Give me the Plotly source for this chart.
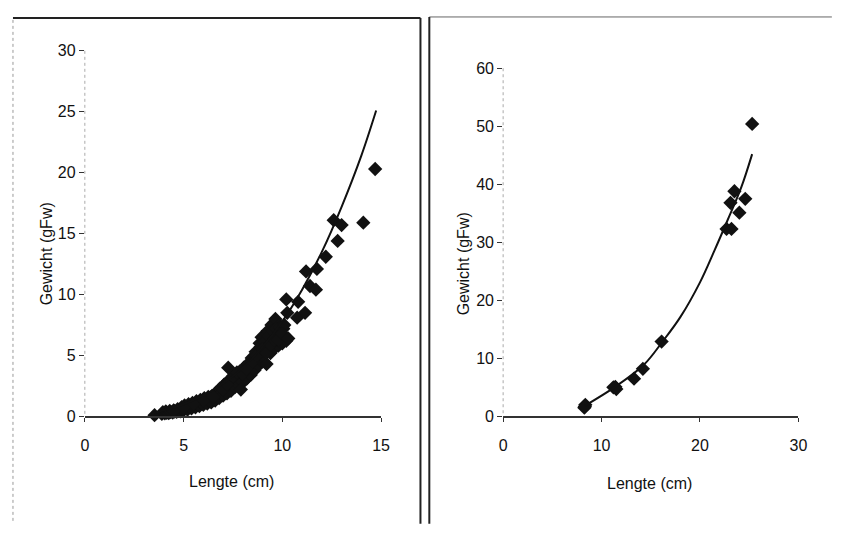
import plotly.graph_objects as go

# ---------------- data ----------------
left_len = [3.53,
    3.9, 3.95, 4.05, 4.1, 4.15, 4.25, 4.3, 4.35, 4.45, 4.5, 4.55, 4.65, 4.7, 4.75,
    4.85, 4.9, 4.95, 5.0, 5.05, 5.1, 5.2, 5.25, 5.3, 5.4, 5.45, 5.5, 5.6, 5.65, 5.7,
    5.8, 5.85, 5.9, 6.0, 6.05, 6.1, 6.2, 6.25, 6.3, 6.4, 6.45, 6.5, 6.6, 6.65, 6.7,
    6.8, 6.85, 6.9, 7.0, 7.05, 7.1, 7.2, 7.25, 7.3, 7.4, 7.45, 7.5, 7.6, 7.65, 7.7,
    7.8, 7.85, 7.9, 8.0, 8.05, 8.1, 8.2, 8.25, 8.3, 8.4, 8.45, 8.5, 8.6, 8.65, 8.7,
    8.8, 8.85, 8.9, 8.95, 9.0, 9.05, 9.1, 9.2, 9.25, 9.3, 9.4, 9.45, 9.5, 9.6, 9.65, 9.7,
    9.8, 9.85, 9.9, 10.0, 10.05, 10.1, 10.2, 10.25,
    7.5, 7.7, 8.0, 8.2, 8.5, 8.7, 8.9, 9.1, 9.3, 9.5, 9.7, 9.9, 10.1, 9.0, 9.2, 9.4,
    9.6, 9.8, 10.0, 10.3, 6.0, 6.5, 7.0, 7.2, 5.5, 5.0, 4.5,
    7.26, 7.9, 10.2, 10.75, 10.8, 11.15, 11.2, 11.4, 11.7, 11.75, 12.2, 12.6, 12.8,
    13.0, 14.1, 14.7]
left_wt = [0.10,
    0.20, 0.35, 0.25, 0.40, 0.30, 0.28, 0.45, 0.35, 0.32, 0.50, 0.40, 0.38, 0.60, 0.48,
    0.42, 0.75, 0.55, 0.50, 0.90, 0.70, 0.55, 1.00, 0.78, 0.65, 1.10, 0.88, 0.75, 1.25, 1.00,
    0.85, 1.35, 1.10, 0.95, 1.50, 1.20, 1.05, 1.60, 1.30, 1.15, 1.70, 1.45, 1.30, 1.95, 1.60,
    1.50, 2.30, 1.90, 1.70, 2.60, 2.10, 1.90, 2.90, 2.40, 2.10, 3.10, 2.60, 2.40, 3.40, 2.90,
    2.60, 3.70, 3.10, 2.80, 4.00, 3.40, 3.10, 4.30, 3.70, 3.40, 4.80, 4.10, 3.80, 5.30, 4.50,
    4.20, 6.00, 5.00, 6.50, 4.50, 6.50, 5.40, 4.30, 7.00, 5.90, 5.20, 7.50, 6.20, 5.60, 8.00, 6.60,
    5.80, 7.50, 6.80, 6.00, 7.20, 6.50, 6.20, 8.50,
    3.3, 3.6, 3.5, 3.9, 4.5, 5.0, 5.7, 6.1, 6.6, 7.0, 7.2, 7.3, 7.5, 5.5, 5.2, 5.9,
    6.3, 6.3, 6.8, 6.4, 1.3, 1.6, 2.2, 2.6, 1.0, 0.7, 0.45,
    4.0, 2.2, 9.6, 8.1, 9.4, 8.5, 11.9, 10.7, 10.4, 12.1, 13.1, 16.1, 14.4,
    15.7, 15.9, 20.3]

left_fit_len = [3.5, 4, 5, 6, 7, 8, 9, 10, 11, 12, 13, 14, 14.75]
left_fit_wt = [0.3, 0.5, 1.0, 1.7, 2.7, 4.0, 5.7, 7.8, 10.4, 13.5, 17.2, 21.4, 25.1]

right_len = [8.25, 8.35, 8.3, 11.2, 11.5, 11.4, 13.3, 14.2, 16.1, 22.7, 23.2, 23.1, 23.5, 24.6, 24.0, 25.3]
right_wt = [1.5, 2.0, 1.7, 5.0, 4.7, 5.1, 6.5, 8.2, 12.9, 32.3, 32.3, 36.8, 38.8, 37.5, 35.1, 50.4]

right_fit_len = [8.33, 11.3, 14.3, 16.2, 18, 20, 21.5, 22.8, 24.2, 25.3]
right_fit_wt = [1.87, 5.0, 8.9, 12.9, 17.1, 23.1, 28.7, 33.8, 39.5, 45.2]

left_xticks = [0, 5, 10, 15]
left_yticks = [0, 5, 10, 15, 20, 25, 30]
right_xticks = [0, 10, 20, 30]
right_yticks = [0, 10, 20, 30, 40, 50, 60]

x_title = "Lengte (cm)"
y_title = "Gewicht (gFw)"

# ---------------- figure ----------------
# The page body keeps the browser's default 8px margin, so the figure is
# 16px smaller than the window and all window positions are shifted by 8px.
OFF = 8
W, H = 841 - 2 * OFF, 533 - 2 * OFF
FONT = "'Liberation Sans', Arial, sans-serif"

def px(x):
    return (x - OFF) / W

def py(y):
    return 1 - (y - OFF) / H

fig = go.Figure()
mk = dict(symbol="diamond", size=11, color="#111111", line=dict(width=0))

fig.add_trace(go.Scatter(x=left_len, y=left_wt, mode="markers", marker=mk,
                         cliponaxis=False, xaxis="x", yaxis="y", showlegend=False))
fig.add_trace(go.Scatter(x=left_fit_len, y=left_fit_wt, mode="lines", line=dict(color="#111111", width=2, shape="spline"),
                         cliponaxis=False, xaxis="x", yaxis="y", showlegend=False))
fig.add_trace(go.Scatter(x=right_len, y=right_wt, mode="markers", marker=mk,
                         cliponaxis=False, xaxis="x2", yaxis="y2", showlegend=False))
fig.add_trace(go.Scatter(x=right_fit_len, y=right_fit_wt, mode="lines", line=dict(color="#111111", width=2, shape="spline"),
                         cliponaxis=False, xaxis="x2", yaxis="y2", showlegend=False))

tickfont = dict(family=FONT, size=16, color="#111111")

def xax(domain, rng, ticks, anchor):
    return dict(domain=domain, range=rng, tickvals=ticks, showgrid=False, zeroline=False,
                showline=True, linecolor="#333333", linewidth=1.5, ticks="outside",
                ticklen=4, tickcolor="#333333", tickfont=tickfont, anchor=anchor,
                ticklabelstandoff=10, fixedrange=True)

def yax(domain, rng, ticks, anchor):
    return dict(domain=domain, range=rng, tickvals=ticks, showgrid=False, zeroline=False,
                showline=False, ticks="outside", ticklen=5, tickcolor="#333333",
                tickfont=tickfont, anchor=anchor, fixedrange=True)

fig.update_layout(
    width=W, height=H, autosize=False,
    margin=dict(l=0, r=0, t=0, b=0),
    paper_bgcolor="white", plot_bgcolor="rgba(0,0,0,0)",
    xaxis=xax([px(82), px(383)], [0, 15], left_xticks, "y"),
    yaxis=yax([py(422), py(44)], [0, 30], left_yticks, "x"),
    xaxis2=xax([px(507), px(807)], [0, 30], right_xticks, "y2"),
    yaxis2=yax([py(422), py(62)], [0, 60], right_yticks, "x2"),
)

titlefont = dict(family=FONT, size=16, color="#111111")
annots = [
    dict(x=px(231), y=py(489), text=x_title, textangle=0),
    dict(x=px(43), y=py(254), text=y_title, textangle=-90),
    dict(x=px(656), y=py(491), text=x_title, textangle=0),
    dict(x=px(467), y=py(264), text=y_title, textangle=-90),
]
for a in annots:
    fig.add_annotation(xref="paper", yref="paper", showarrow=False, font=titlefont,
                       xanchor="center", yanchor="middle", **a)

def line(x0, y0, x1, y1, color="#222222", width=2, dash="solid"):
    fig.add_shape(type="line", xref="paper", yref="paper",
                  x0=px(x0), y0=py(y0), x1=px(x1), y1=py(y1),
                  line=dict(color=color, width=width, dash=dash))

# panel frames (scanned page)
line(9, 10, 423, 10, "#222222", 2)
line(432, 9, 841, 9, "#666666", 1)
line(423, 10, 423, 533, "#222222", 2)
line(432, 9, 432, 533, "#222222", 2)
line(9, 12, 9, 533, "#999999", 1, "dot")
# faint dotted y-axis lines
line(82, 44, 82, 422, "#aaaaaa", 1, "dot")
line(507, 62, 507, 422, "#aaaaaa", 1, "dot")

fig.write_html("out.html", config={"displayModeBar": False})
